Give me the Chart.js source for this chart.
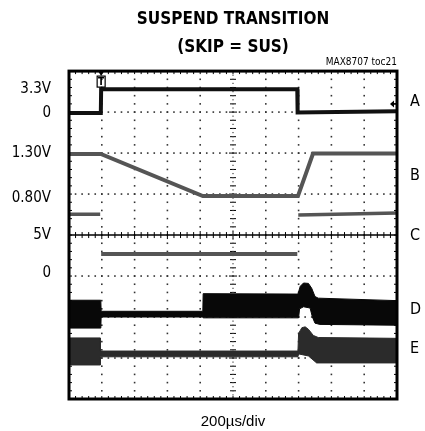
<!DOCTYPE html>
<html>
<head>
<meta charset="utf-8">
<script src="https://cdn.jsdelivr.net/npm/chart.js@4.4.0/dist/chart.umd.min.js"></script>
<style>
  html, body { margin: 0; padding: 0; background: #fff; }
  canvas { display: block; }
</style>
</head>
<body>
<canvas id="scopeChart" width="425" height="431"></canvas>
<script>
// *** scope screen: 10 x 8 divisions, values are in divisions ***
var xDivs = 10;
var yDivs = 8;

// channel level labels (left) and channel names (right)
var leftTickValues = [7.57, 6.98, 6.0, 4.9, 4.0, 3.06];
var leftTickLabels = ['3.3V', '0', '1.30V', '0.80V', '5V', '0'];
var rightTickValues = [7.26, 5.44, 3.98, 2.18, 1.22];
var rightTickLabels = ['A', 'B', 'C', 'D', 'E'];

// traces, [x, y] in divisions
var traceA = [[0, 6.98], [0.97, 6.98], [0.98, 7.56], [6.96, 7.56], [6.97, 6.99], [10, 7.02]];
var traceB = [[0, 5.98], [0.97, 5.98], [4.08, 4.95], [6.98, 4.95], [7.44, 5.99], [10, 5.99]];
var traceBLow = [[0, 4.51], [0.95, 4.51], [0.96, null], [6.99, 4.49], [10, 4.54]];
var traceC = [[0.98, 3.54], [6.96, 3.54]];
var traceDTop = [[0, 2.41], [0.97, 2.41], [0.98, 2.14], [4.08, 2.14], [4.09, 2.57], [6.98, 2.56],
    [7.05, 2.75], [7.15, 2.83], [7.3, 2.82], [7.4, 2.7], [7.5, 2.5], [7.6, 2.46], [10, 2.4]];
var traceDBottom = [[0, 1.73], [0.97, 1.73], [0.98, 2.0], [4.08, 2.0], [4.09, 1.98], [7.0, 1.98],
    [7.03, 2.2], [7.15, 2.25], [7.35, 2.22], [7.42, 2.0], [7.5, 1.85], [7.65, 1.82], [10, 1.8]];
var traceETop = [[0, 1.49], [0.95, 1.49], [0.96, 1.17], [6.98, 1.17], [7.0, 1.6], [7.1, 1.74],
    [7.2, 1.76], [7.3, 1.7], [7.45, 1.55], [7.6, 1.5], [10, 1.48]];
var traceEBottom = [[0, 0.83], [0.95, 0.83], [0.96, 1.03], [6.98, 1.03], [7.0, 1.1], [7.3, 1.05],
    [7.55, 0.88], [10, 0.88]];

var narrow = "'Liberation Sans Narrow', 'DejaVu Sans Condensed', 'Liberation Sans', sans-serif";

function pts(arr) {
    return arr.map(function (p) { return { x: p[0], y: p[1] }; });
}

function trace(label, arr, color, width) {
    return {
        label: label,
        data: pts(arr),
        borderColor: color,
        backgroundColor: color,
        borderWidth: width,
        pointRadius: 0,
        fill: false,
        spanGaps: false
    };
}

// graticule: dotted divisions, centre cross, frame ticks
var scopeGrid = {
    id: 'scopeGrid',
    beforeDatasetsDraw(chart) {
        var ctx = chart.ctx, a = chart.chartArea;
        var xs = chart.scales.x, ys = chart.scales.y;
        var i, k, px, py, len;
        ctx.save();
        ctx.fillStyle = '#333';
        for (i = 1; i < xDivs; i++) {
            if (i === xDivs / 2) continue;
            px = xs.getPixelForValue(i);
            for (k = 0; k <= yDivs * 5; k++) {
                py = ys.getPixelForValue(k / 5);
                ctx.fillRect(px - 0.8, py - 0.8, 1.6, 1.6);
            }
        }
        for (i = 1; i < yDivs; i++) {
            if (i === yDivs / 2) continue;
            py = ys.getPixelForValue(i);
            for (k = 0; k <= xDivs * 5; k++) {
                px = xs.getPixelForValue(k / 5);
                ctx.fillRect(px - 0.8, py - 0.8, 1.6, 1.6);
            }
        }
        ctx.strokeStyle = '#000';
        var cx = xs.getPixelForValue(xDivs / 2), cy = ys.getPixelForValue(yDivs / 2);
        ctx.lineWidth = 1.5;
        ctx.beginPath();
        ctx.moveTo(a.left, cy);
        ctx.lineTo(a.right, cy);
        ctx.stroke();
        ctx.lineWidth = 1;
        ctx.beginPath();
        for (k = 0; k <= xDivs * 5; k++) {
            px = xs.getPixelForValue(k / 5);
            len = k % 5 === 0 ? 4 : 3;
            ctx.moveTo(px, cy - len);
            ctx.lineTo(px, cy + len);
            // edge ticks top and bottom
            ctx.moveTo(px, a.top);
            ctx.lineTo(px, a.top + 3);
            ctx.moveTo(px, a.bottom - 3);
            ctx.lineTo(px, a.bottom);
        }
        for (k = 0; k <= yDivs * 5; k++) {
            py = ys.getPixelForValue(k / 5);
            len = k % 5 === 0 ? 4 : 3;
            ctx.moveTo(cx - len, py);
            ctx.lineTo(cx + len, py);
            ctx.moveTo(a.left, py);
            ctx.lineTo(a.left + 3, py);
            ctx.moveTo(a.right - 3, py);
            ctx.lineTo(a.right, py);
        }
        ctx.stroke();
        ctx.fillStyle = '#444';
        for (k = 0; k <= yDivs * 10; k++) {
            py = ys.getPixelForValue(k / 10);
            ctx.fillRect(cx - 0.6, py - 0.6, 1.2, 1.2);
        }
        ctx.restore();
    },
    afterDatasetsDraw(chart) {
        var ctx = chart.ctx, a = chart.chartArea;
        var xs = chart.scales.x, ys = chart.scales.y;
        ctx.save();
        ctx.strokeStyle = '#000';
        ctx.lineWidth = 3;
        ctx.strokeRect(a.left, a.top, a.right - a.left, a.bottom - a.top);

        // trigger marker
        var tx = xs.getPixelForValue(traceA[2][0]);
        ctx.fillStyle = '#000';
        ctx.beginPath();
        ctx.moveTo(tx - 2.5, a.top + 1);
        ctx.lineTo(tx + 2.5, a.top + 1);
        ctx.lineTo(tx, a.top + 5);
        ctx.fill();
        ctx.lineWidth = 1.2;
        ctx.strokeRect(tx - 4, a.top + 5, 8, 11);
        ctx.font = 'bold 10px ' + narrow;
        ctx.textAlign = 'center';
        ctx.textBaseline = 'middle';
        ctx.fillText('T', tx, a.top + 11);

        // ground arrow of channel A
        var gy = ys.getPixelForValue(7.2);
        ctx.beginPath();
        ctx.moveTo(a.right - 7, gy);
        ctx.lineTo(a.right - 3, gy - 3.5);
        ctx.lineTo(a.right - 3, gy + 3.5);
        ctx.fill();
        ctx.lineWidth = 1.5;
        ctx.beginPath();
        ctx.moveTo(a.right - 4, gy);
        ctx.lineTo(a.right, gy);
        ctx.stroke();
        ctx.restore();
    }
};

var ctx0 = document.getElementById('scopeChart').getContext('2d');

var dTop = trace('D', traceDTop, '#080808', 1);
var dBottom = trace('D', traceDBottom, '#080808', 1);
dBottom.fill = '-1';
var eTop = trace('E', traceETop, '#2b2b2b', 1);
var eBottom = trace('E', traceEBottom, '#2b2b2b', 1);
eBottom.fill = '-1';

var scopeChart = new Chart(ctx0, {
    type: 'line',
    data: {
        datasets: [
            trace('A', traceA, '#111', 4),
            trace('B', traceB, '#555', 4),
            trace('B', traceBLow, '#555', 3.5),
            trace('C', traceC, '#555', 4),
            dTop, dBottom,
            eTop, eBottom
        ]
    },
    options: {
        responsive: false,
        animation: false,
        devicePixelRatio: 1,
        layout: { padding: 0 },
        plugins: {
            legend: { display: false },
            tooltip: { enabled: false },
            title: {
                display: true,
                fullSize: false,
                text: ['SUSPEND TRANSITION', '(SKIP = SUS)'],
                color: '#000',
                font: { family: narrow, size: 17, weight: 'bold', lineHeight: 1.65 },
                padding: { top: 6, bottom: 0 }
            },
            subtitle: {
                display: true,
                fullSize: false,
                align: 'end',
                text: 'MAX8707 toc21',
                color: '#000',
                font: { family: narrow, size: 10, lineHeight: 1.2 },
                padding: { top: -6, bottom: 3 }
            }
        },
        scales: {
            x: {
                type: 'linear',
                min: 0,
                max: xDivs,
                grid: { display: false, drawTicks: false },
                border: { display: false },
                ticks: { display: false },
                title: {
                    display: true,
                    text: '200µs/div',
                    color: '#000',
                    font: { family: "'Liberation Sans', Arial, sans-serif", size: 15, lineHeight: 1.2 },
                    padding: { top: 14, bottom: 0 }
                }
            },
            y: {
                type: 'linear',
                position: 'left',
                min: 0,
                max: yDivs,
                grid: { display: false, drawTicks: false },
                border: { display: false },
                afterBuildTicks: function (scale) {
                    scale.ticks = leftTickValues.map(function (v) { return { value: v }; });
                },
                afterFit: function (scale) { scale.width = 69; },
                ticks: {
                    autoSkip: false,
                    padding: 18,
                    color: '#000',
                    font: { family: narrow, size: 15 },
                    callback: function (value, index) { return leftTickLabels[index]; }
                }
            },
            y2: {
                type: 'linear',
                position: 'right',
                min: 0,
                max: yDivs,
                grid: { display: false, drawTicks: false },
                border: { display: false },
                afterBuildTicks: function (scale) {
                    scale.ticks = rightTickValues.map(function (v) { return { value: v }; });
                },
                afterFit: function (scale) { scale.width = 28; },
                ticks: {
                    autoSkip: false,
                    padding: 13,
                    color: '#000',
                    font: { family: narrow, size: 16 },
                    callback: function (value, index) { return rightTickLabels[index]; }
                }
            }
        }
    },
    plugins: [scopeGrid]
});
</script>
</body>
</html>
